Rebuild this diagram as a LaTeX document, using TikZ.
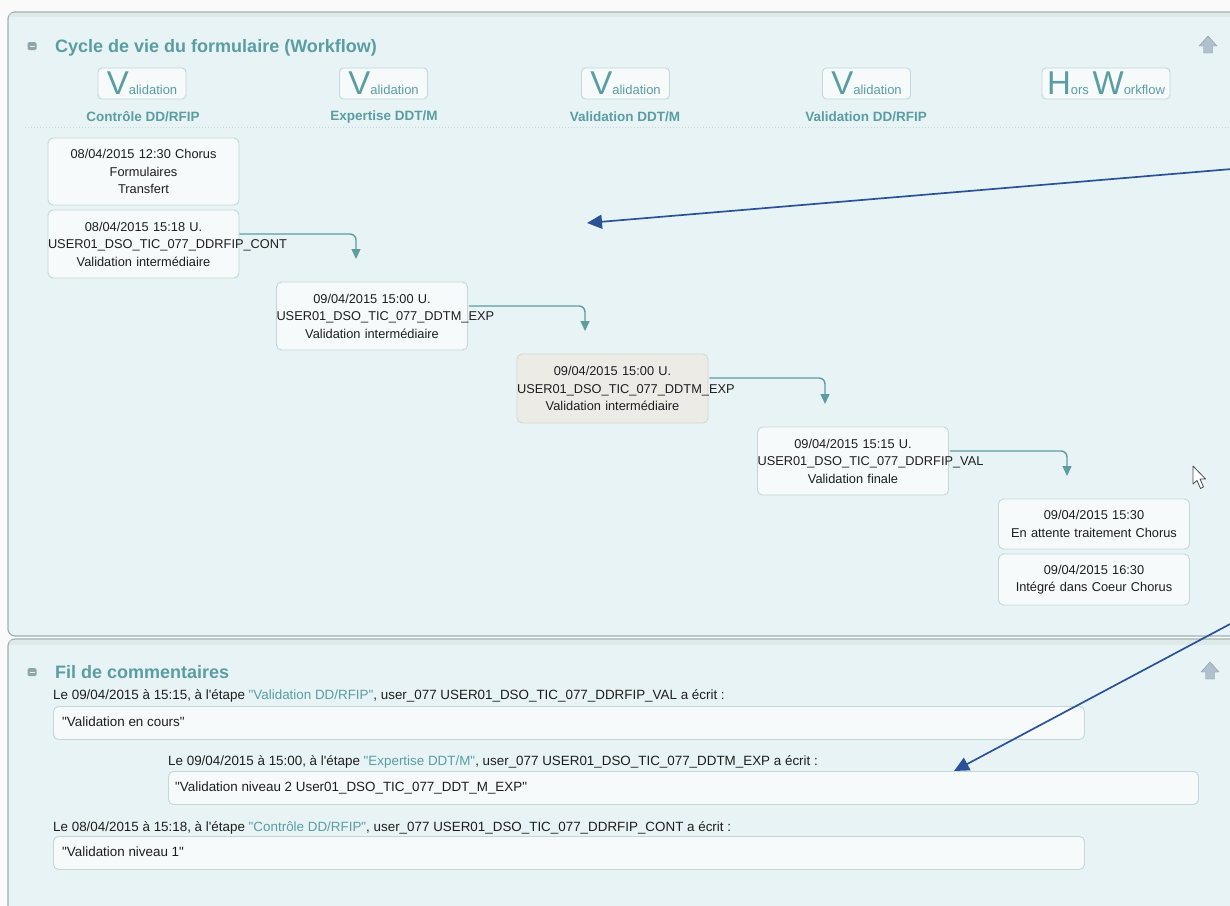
\documentclass[tikz,border=0pt]{standalone}
\usepackage{fontspec}
\setmainfont{Liberation Sans}
\newfontfamily\arialf{Liberation Sans}
\usetikzlibrary{arrows.meta,calc}
\definecolor{panelbg}{HTML}{E8F3F5}
\definecolor{panelline}{HTML}{9DB1B2}
\definecolor{boxfill}{HTML}{F6FAFB}
\definecolor{boxline}{HTML}{C3D6D8}
\definecolor{tealtxt}{HTML}{5A9DA2}
\definecolor{conncol}{HTML}{5E9C9F}
\definecolor{annot}{HTML}{2B5296}
\definecolor{curbox}{HTML}{ECEBE6}
\definecolor{iconcol}{HTML}{8DA7A9}
\definecolor{upcol}{HTML}{B2BFCC}
\definecolor{txt}{HTML}{1E1E1E}
\tikzset{
  wbox/.style={draw=boxline, fill=boxfill, rounded corners=5pt, line width=0.9pt,
    text width=191pt, inner xsep=0pt, inner ysep=0pt, align=center, text=txt,
    font=\arialf\fontsize{12.8}{17.5}\selectfont},
  cbox/.style={draw=boxline, fill=boxfill, rounded corners=5pt, line width=0.9pt,
    inner sep=0pt, anchor=north west},
  ctext/.style={anchor=base west, inner sep=0pt, text=txt, font=\arialf\fontsize{13.4}{15}\selectfont},
  stagebtn/.style={draw=boxline, fill=boxfill, rounded corners=4pt, line width=0.9pt,
    minimum height=31pt, inner sep=0pt, text=tealtxt, font=\arialf},
  stagelbl/.style={inner sep=0pt, text=tealtxt, font=\arialf\fontsize{13.5}{15}\selectfont\bfseries},
  ptitle/.style={anchor=base west, inner sep=0pt, text=tealtxt, font=\arialf\fontsize{18}{20}\selectfont\bfseries},
  conn/.style={draw=conncol, line width=1.4pt, rounded corners=6pt, -{Triangle[width=9pt,length=10pt]}},
  annotarrow/.style={draw=annot, line width=1.7pt, -{Triangle[width=14pt,length=15pt]}},
  minusicon/.style={fill=iconcol, rounded corners=1.5pt, minimum width=9pt, minimum height=8pt, inner sep=0pt}
}
\newcommand{\bigV}[1]{{\fontsize{33}{33}\selectfont #1}}
\newcommand{\smallT}[1]{{\fontsize{13}{13}\selectfont #1}}
\begin{document}
\begin{tikzpicture}[x=1pt,y=-1pt]
\useasboundingbox (0,0) rectangle (1230,905);
% page background
\fill[white!96!gray] (0,0) rectangle (1230,905);
% panel 1
\path[fill=panelbg, draw=panelline, line width=1.2pt, rounded corners=7pt]
  (8,636) -- (8,12) -- (1240,12) -- (1240,636) -- cycle;
\fill[panelline!40, opacity=0.5] (9,13) rectangle (1230,17);
% panel 2
\path[fill=panelbg, draw=panelline, line width=1.2pt, rounded corners=7pt]
  (8,915) -- (8,639) -- (1240,639) -- (1240,915) -- cycle;
\fill[panelline!40, opacity=0.5] (9,640) rectangle (1230,645);

% panel 1 header
\node[minusicon] (ic1) at (32,46) {};
\draw[white!80!iconcol, line width=1pt] (29.5,46) -- (34.5,46);
\node[ptitle] (t1) at (55,52.5) {Cycle de vie du formulaire (Workflow)};
\path[fill=upcol, draw=upcol!80!black, line width=0.4pt]
  (1208,36) -- (1217,46) -- (1212.5,46) -- (1212.5,53) -- (1203.5,53) -- (1203.5,46) -- (1199,46) -- cycle;

% stage buttons
\node[stagebtn, minimum width=88pt] (s1) at (142,83.5) {\bigV{V}\smallT{alidation}};
\node[stagebtn, minimum width=88pt] (s2) at (383.5,83.5) {\bigV{V}\smallT{alidation}};
\node[stagebtn, minimum width=88pt] (s3) at (625.5,83.5) {\bigV{V}\smallT{alidation}};
\node[stagebtn, minimum width=88pt] (s4) at (866.5,83.5) {\bigV{V}\smallT{alidation}};
\node[stagebtn, minimum width=128pt] (s5) at (1106,83.5) {\bigV{H}\smallT{ors }\bigV{W}\smallT{orkflow}};
\node[stagelbl] (l1) at (143,117) {Contrôle DD/RFIP};
\node[stagelbl] (l2) at (384,117) {Expertise DDT/M};
\node[stagelbl] (l3) at (625,117) {Validation DDT/M};
\node[stagelbl] (l4) at (866,117) {Validation DD/RFIP};
\draw[boxline, line width=1pt, dotted] (25,127.5) -- (1230,127.5);

% workflow boxes
\node[wbox, minimum height=67pt] (b1) at (143.5,171.5) {08/04/2015 12:30 Chorus\\Formulaires\\Transfert};
\node[wbox, minimum height=68pt] (b2) at (143.5,244) {08/04/2015 15:18 U.\\USER01\_DSO\_TIC\_077\_DDRFIP\_CONT\\Validation intermédiaire};
\node[wbox, minimum height=68pt] (b3) at (372,316) {09/04/2015 15:00 U.\\USER01\_DSO\_TIC\_077\_DDTM\_EXP\\Validation intermédiaire};
\node[wbox, minimum height=69pt, fill=curbox, draw=curbox!80!gray] (b4) at (612.5,388.5) {09/04/2015 15:00 U.\\USER01\_DSO\_TIC\_077\_DDTM\_EXP\\Validation intermédiaire};
\node[wbox, minimum height=68pt] (b5) at (853,461) {09/04/2015 15:15 U.\\USER01\_DSO\_TIC\_077\_DDRFIP\_VAL\\Validation finale};
\node[wbox, minimum height=50pt] (b6) at (1094,524) {09/04/2015 15:30\\En attente traitement Chorus};
\node[wbox, minimum height=51pt] (b7) at (1094,579.5) {09/04/2015 16:30\\Intégré dans Coeur Chorus};

% connectors
\coordinate (e2) at (356,259);
\coordinate (e3) at (585,331);
\coordinate (e4) at (825,404);
\coordinate (e5) at (1067,476);
\draw[conn] ($(b2.east)+(0,-10)$) -| (e2);
\draw[conn] ($(b3.east)+(1,-10)$) -| (e3);
\draw[conn] ($(b4.east)+(1,-10.5)$) -| (e4);
\draw[conn] ($(b5.east)+(1,-10)$) -| (e5);

% cursor
\path[fill=white, draw=black!70, line width=0.8pt, line join=round]
  (1193,466) -- (1193,484) -- (1197,480.5) -- (1200.5,488.5) -- (1203.5,487) -- (1200,479) -- (1205.5,479) -- cycle;

% panel 2 header
\node[minusicon] (ic2) at (32,672) {};
\draw[white!80!iconcol, line width=1pt] (29.5,672) -- (34.5,672);
\node[ptitle] (t2) at (55,678.5) {Fil de commentaires};
\path[fill=upcol, draw=upcol!80!black, line width=0.4pt]
  (1210,662) -- (1219,672) -- (1214.5,672) -- (1214.5,679) -- (1205.5,679) -- (1205.5,672) -- (1201,672) -- cycle;

% comments
\node[ctext] (h1) at (53,699.5) {Le 09/04/2015 à 15:15, à l'étape \textcolor{tealtxt}{"Validation DD/RFIP"}, user\_077 USER01\_DSO\_TIC\_077\_DDRFIP\_VAL a écrit :};
\node[cbox, minimum width=1031pt, minimum height=33pt] (c1) at (53,706) {};
\node[ctext] (m1) at (62,726.5) {"Validation en cours"};

\node[ctext] (h2) at (168,765.5) {Le 09/04/2015 à 15:00, à l'étape \textcolor{tealtxt}{"Expertise DDT/M"}, user\_077 USER01\_DSO\_TIC\_077\_DDTM\_EXP a écrit :};
\node[cbox, minimum width=1030pt, minimum height=33pt] (c2) at (168,771) {};
\node[ctext] (m2) at (175,791.5) {"Validation niveau 2 User01\_DSO\_TIC\_077\_DDT\_M\_EXP"};

\node[ctext] (h3) at (53,831.5) {Le 08/04/2015 à 15:18, à l'étape \textcolor{tealtxt}{"Contrôle DD/RFIP"}, user\_077 USER01\_DSO\_TIC\_077\_DDRFIP\_CONT a écrit :};
\node[cbox, minimum width=1031pt, minimum height=33pt] (c3) at (53,836) {};
\node[ctext] (m3) at (62,856.5) {"Validation niveau 1"};

% annotation arrows
\coordinate (a1s) at (1232,169);
\coordinate (a1e) at (587,223);
\coordinate (a2s) at (1232,623);
\coordinate (a2e) at (954,771);
\draw[annotarrow] (a1s) -- (a1e);
\draw[annotarrow] (a2s) -- (a2e);
\end{tikzpicture}
\end{document}
